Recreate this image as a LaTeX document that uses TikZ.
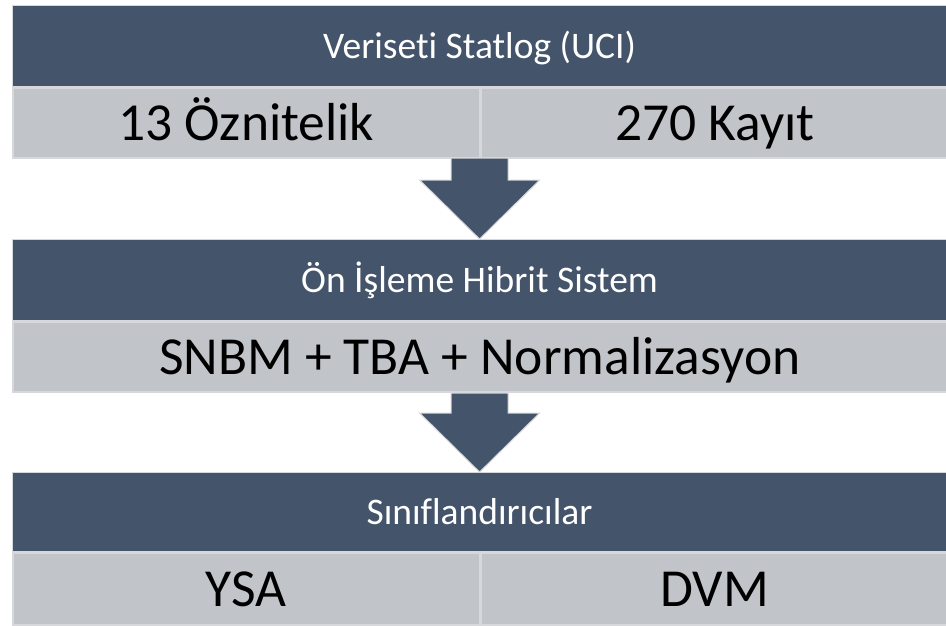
\documentclass[tikz,border=0pt]{standalone}
\usepackage{fontspec}
\setmainfont{Carlito}[Ligatures=NoCommon]
\usetikzlibrary{calc,positioning}
\definecolor{head}{HTML}{44546A}
\definecolor{cell}{HTML}{C1C4C9}
\definecolor{rim}{HTML}{D6D8DB}
\tikzset{
  hdr/.style={fill=head, draw=rim, line width=1.2pt, text=white, minimum width=934pt, minimum height=81pt, inner sep=0pt, anchor=north west, text height=24pt, text depth=0pt, font=\fontsize{37.5}{44}\selectfont},
  cellbox/.style={fill=cell, draw=rim, line width=1.5pt, text=black, minimum width=467pt, minimum height=70pt, inner sep=0pt, anchor=north west, text height=34.5pt, text depth=0pt, font=\fontsize{53.5}{62}\selectfont},
  widebox/.style={cellbox, minimum width=934pt},
  blk/.style={fill=head, draw=rim, line width=1pt, line join=miter}
}
% block arrow pointing down onto #1, total length #2, head 59 high
\newcommand{\flowarrow}[2]{%
  \filldraw[blk] ($(#1)+(-28.5,-#2)$) -- ($(#1)+(28.5,-#2)$) -- ($(#1)+(28.5,-59)$)
    -- ($(#1)+(60,-59)$) -- (#1) -- ($(#1)+(-60,-59)$) -- ($(#1)+(-28.5,-59)$) -- cycle;}

\begin{document}
\begin{tikzpicture}[x=1pt,y=-1pt]
  \useasboundingbox (0,0) rectangle (946,626);

  % data set
  \node[hdr] (veri) at (12,5) {Veriseti Statlog (UCI)};
  \node[cellbox] (oznit) at (veri.south west) {13 Öznitelik};
  \node[cellbox] (kayit) at (oznit.north east) {270 Kayıt};

  % preprocessing
  \node[hdr] (onisl) at (12,239) {Ön İşleme Hibrit Sistem};
  \node[widebox] (hibrit) at (onisl.south west) {SNBM + TBA + Normalizasyon};

  % classifiers
  \node[hdr, minimum height=79pt] (sinif) at (12,472) {Sınıflandırıcılar};
  \node[cellbox, minimum height=72pt] (ysa) at (sinif.south west) {YSA};
  \node[cellbox, minimum height=72pt] (dvm) at (ysa.north east) {DVM};

  \coordinate (a1) at (onisl.north);
  \coordinate (a2) at (sinif.north);
  \flowarrow{a1}{81}
  \flowarrow{a2}{79}
\end{tikzpicture}
\end{document}
